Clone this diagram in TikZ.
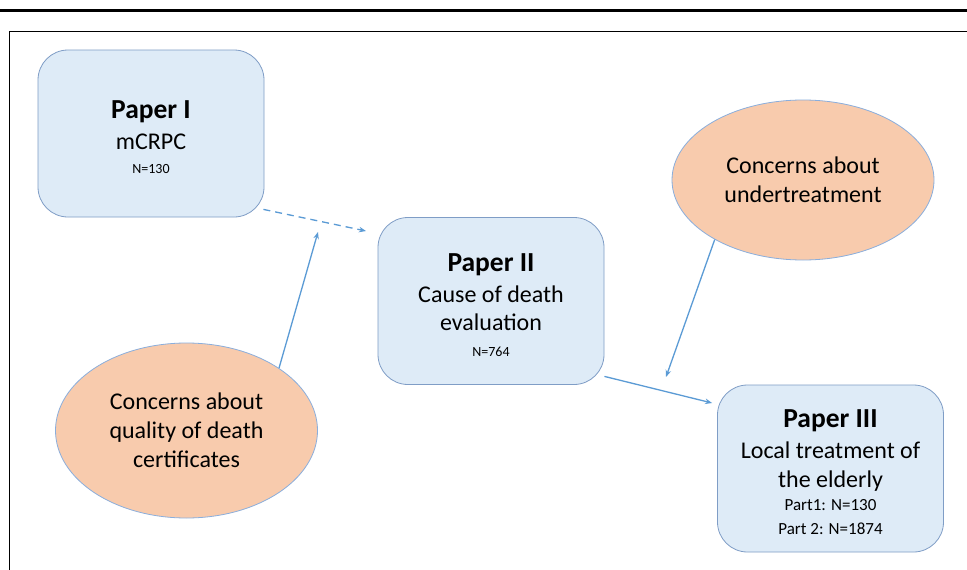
\documentclass[tikz,border=0pt]{standalone}
\usepackage{fontspec}
\setmainfont{Carlito}
\usetikzlibrary{arrows.meta,shapes.geometric,calc}
\definecolor{boxfill}{HTML}{DEEBF7}
\definecolor{boxdraw}{HTML}{7F9DC6}
\definecolor{ellfill}{HTML}{F8CBAD}
\definecolor{elldraw}{HTML}{8AAEDC}
\definecolor{arr}{HTML}{5B9BD5}
\tikzset{
  paperbox/.style={draw=boxdraw, fill=boxfill, rounded corners=30pt, line width=0.8pt,
    minimum width=226pt, minimum height=167pt, inner sep=0pt},
  papertext/.style={align=center, inner sep=0pt, font=\fontsize{24}{29}\selectfont},
  concern/.style={ellipse, draw=elldraw, fill=ellfill, line width=0.8pt, align=center, inner sep=0pt},
  conn/.style={draw=arr, line width=1.3pt, -{Stealth[length=7pt,width=5.5pt]}},
  big/.style={font=\fontsize{24}{29}\selectfont},
}
\newcommand{\ttl}[1]{{\fontsize{27.5}{29}\selectfont\bfseries #1}}
\newcommand{\sml}[1]{{\fontsize{14}{20}\selectfont #1}}
\newcommand{\midtxt}[1]{{\fontsize{17}{20}\selectfont #1}}
\begin{document}
\begin{tikzpicture}[x=1pt,y=-1pt]
\useasboundingbox (0,0) rectangle (967,570);
\fill[white] (0,0) rectangle (967,570);
% top rule and frame
\draw[line width=3pt] (0,10.5) -- (967,10.5);
\draw[line width=1.3pt] (9.5,575) -- (9.5,31.5) -- (975,31.5);
% boxes
\node[paperbox] (p1) at (151,133.5) {};
\node[papertext] (p1t) at ($(p1)+(0,4)$) {\ttl{Paper I}\\[2pt] mCRPC\\[-5pt] \sml{N=130}};
\node[paperbox] (p2) at (491,301) {};
\node[papertext] (p2t) at ($(p2)+(0,4)$) {\ttl{Paper II}\\[2pt] Cause of death\\[-1pt] evaluation\\[-3pt] \sml{N=764}};
\node[paperbox] (p3) at (830.5,468.5) {};
\node[papertext] (p3t) at ($(p3)+(0,4)$) {\ttl{Paper III}\\[2pt] Local treatment of\\ the elderly\\[-6pt] \midtxt{Part1: N=130}\\[-5pt] \midtxt{Part 2: N=1874}};
% ellipses
\node[concern, big, minimum width=262pt, minimum height=160pt] (c1) at (803,180) {Concerns about\\ undertreatment};
\node[concern, big, minimum width=262pt, minimum height=175pt] (c2) at (186.5,430.5) {Concerns about\\ quality of death\\ certificates};
% connectors
\coordinate (d1) at (366,231);
\coordinate (d2) at (318,232);
\coordinate (d3) at (666,377);
\draw[conn, dash pattern=on 7pt off 5pt] ($(p1.south east)+(-1,-8)$) -- (d1);
\draw[conn] (c2.34.5) -- (d2);
\draw[conn] (c1.214.7) -- (d3);
\draw[conn] ($(p2.south east)+(0,-8.5)$) -- ($(p3.west)+(-5,-65.5)$);
\end{tikzpicture}
\end{document}
